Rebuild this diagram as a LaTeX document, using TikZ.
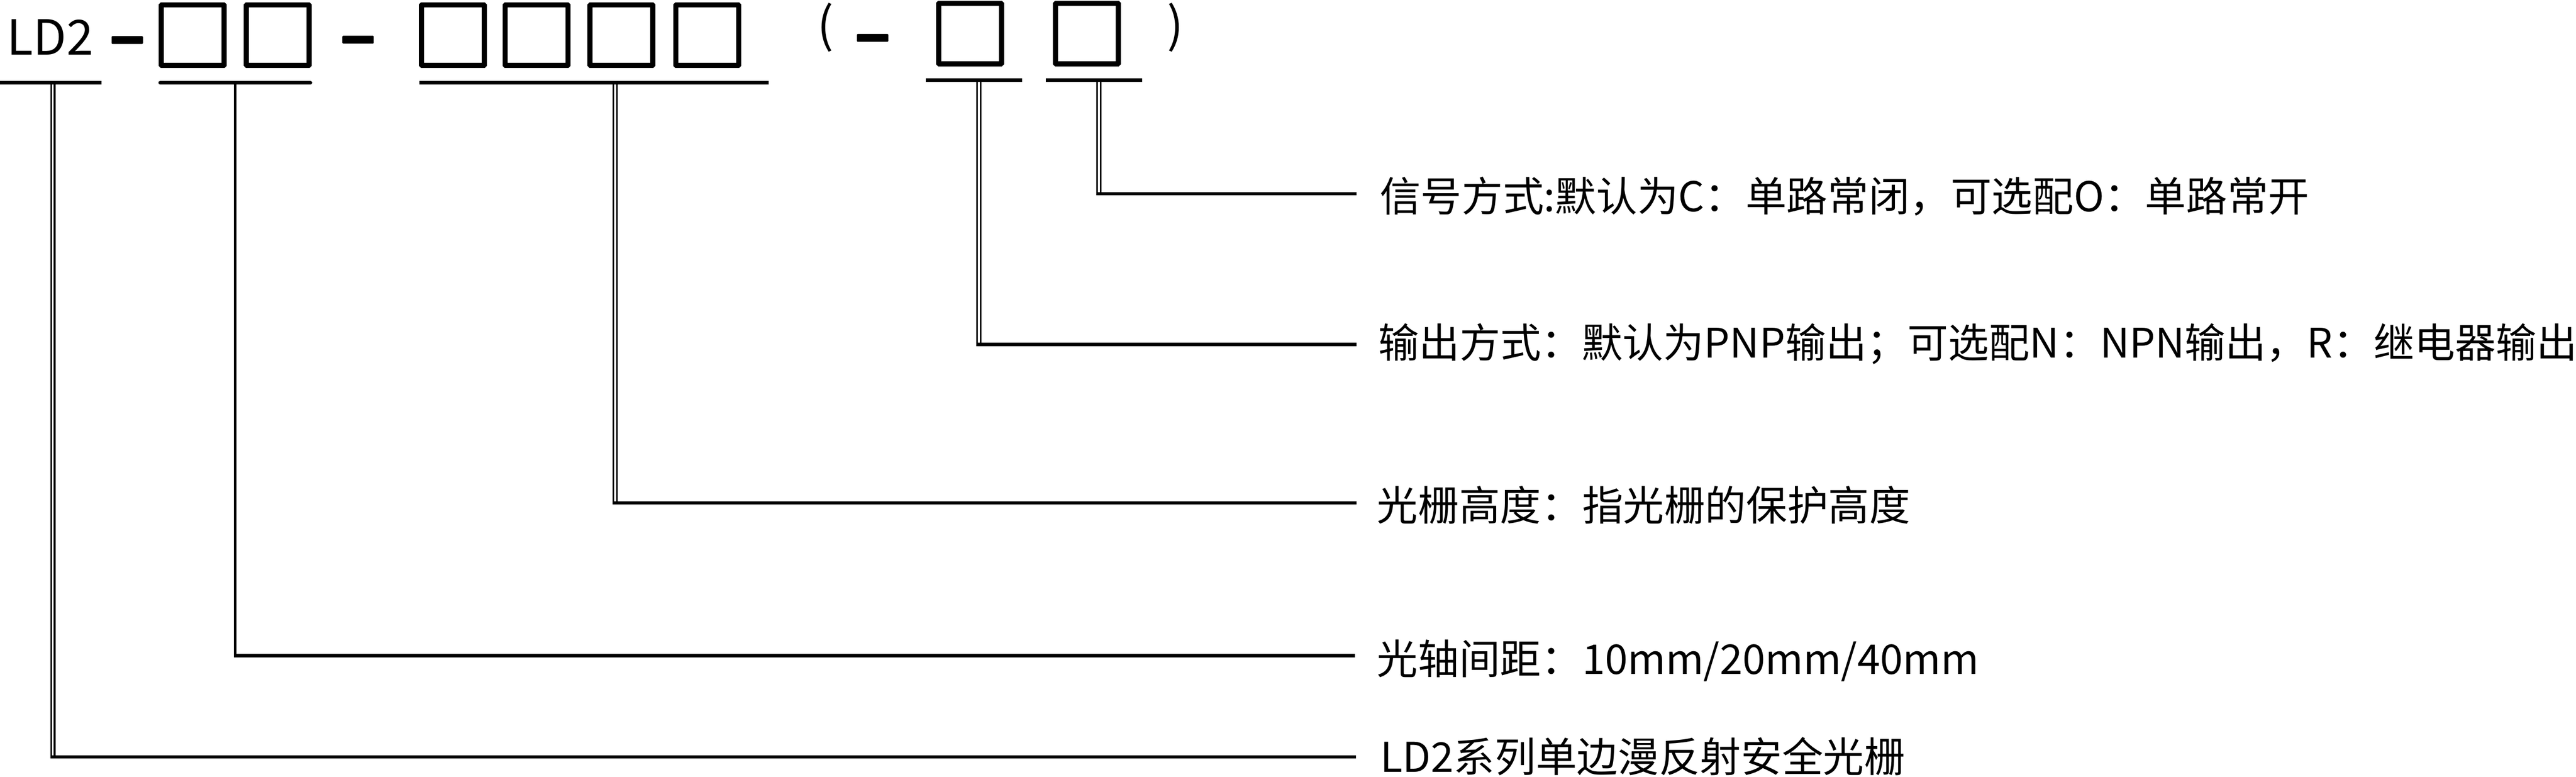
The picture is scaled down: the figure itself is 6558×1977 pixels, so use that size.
\documentclass[tikz,border=0pt]{standalone}
\usepackage{fontspec}
\newfontfamily\cjk{Noto Sans CJK SC}
\newlength\pxu
\setlength\pxu{0.01cm}
\begin{document}
\begin{tikzpicture}[x=0.01cm,y=-0.01cm,
  codebox/.style={draw, line width=13\pxu, inner sep=0pt, minimum width=160\pxu, minimum height=154\pxu, rounded corners=1.5\pxu},
  dashbar/.style={fill, inner sep=0pt, minimum width=80\pxu, minimum height=20\pxu, rounded corners=2\pxu},
  topfont/.style={font=\cjk\fontsize{35pt}{40pt}\selectfont, inner sep=0pt},
  lab/.style={font=\cjk\fontsize{29.7pt}{36pt}\selectfont, inner sep=0pt, anchor=base west},
  uline/.style={line width=9.5\pxu},
  hline/.style={line width=8.5\pxu},
  dbl/.style={double, line width=4\pxu, double distance=5\pxu},
  sgl/.style={line width=7\pxu}]
\useasboundingbox (0,0) rectangle (6558,1977);
% --- top code line ---
\node[topfont, anchor=base west] (ld) at (17,140) {LD2};
\node[dashbar] (d1) at (324,102) {};
\node[codebox] (b1) at (490.5,89.5) {};
\node[codebox] (b2) at (707,89.5) {};
\node[dashbar] (d2) at (911.5,101) {};
\node[codebox] (b3) at (1153,89.5) {};
\node[codebox] (b4) at (1366,89.5) {};
\node[codebox] (b5) at (1582,89.5) {};
\node[codebox] (b6) at (1800.5,89.5) {};
\node[topfont] (po) at (2102,70) {(};
\node[dashbar] (d3) at (2221.5,96.5) {};
\node[codebox] (b7) at (2469.5,85.5) {};
\node[codebox] (b8) at (2767,85.5) {};
\node[topfont] (pc) at (2992,70) {)};
% --- labels ---
\node[lab] (l1) at (3512,538) {信号方式:默认为C：单路常闭，可选配O：单路常开};
\node[lab, font=\cjk\fontsize{29.5pt}{36pt}\selectfont] (l2) at (3508,911) {输出方式：默认为PNP输出；可选配N：NPN输出，R：继电器输出};
\node[lab] (l3) at (3505,1325) {光栅高度：指光栅的保护高度};
\node[lab] (l4) at (3505,1716) {光轴间距：10mm/20mm/40mm};
\node[lab] (l5) at (3514,1965) {LD2系列单边漫反射安全光栅};
% --- connector points ---
\coordinate (t1) at (134.5,211);  \coordinate (k1) at (134.5,1927);  \coordinate (k1l) at (128,1927);  \coordinate (e1) at (3452,1927);
\coordinate (t2) at (599,211);    \coordinate (k2) at (599,1669);    \coordinate (k2l) at (595.5,1669);  \coordinate (e2) at (3450,1669);
\coordinate (t3) at (1566.5,211); \coordinate (k3) at (1566.5,1280); \coordinate (k3l) at (1560,1280);  \coordinate (e3) at (3453,1280);
\coordinate (t4) at (2491.5,204); \coordinate (k4) at (2491.5,877);  \coordinate (k4l) at (2485,877);   \coordinate (e4) at (3453,877);
\coordinate (t5) at (2798,204);   \coordinate (k5) at (2798,493.5);  \coordinate (k5l) at (2791.5,493.5); \coordinate (e5) at (3453,493.5);
% --- verticals ---
\draw[dbl] (t1) -- (k1);
\draw[sgl] (t2) -- (k2);
\draw[dbl] (t3) -- (k3);
\draw[dbl] (t4) -- (k4);
\draw[dbl] (t5) -- (k5);
% --- horizontals to labels ---
\draw[hline] (k1l) -- (e1);
\draw[hline] (k2l) -- (e2);
\draw[hline] (k3l) -- (e3);
\draw[hline] (k4l) -- (e4);
\draw[hline] (k5l) -- (e5);
% --- underlines ---
\draw[uline] (0,211) -- (258,211);
\draw[uline, line cap=round] (408,211) -- (790,211);
\draw[uline] (1067,211) -- (1957,211);
\draw[uline] (2357,204) -- (2602,204);
\draw[uline] (2663,204) -- (2908,204);
\end{tikzpicture}
\end{document}
